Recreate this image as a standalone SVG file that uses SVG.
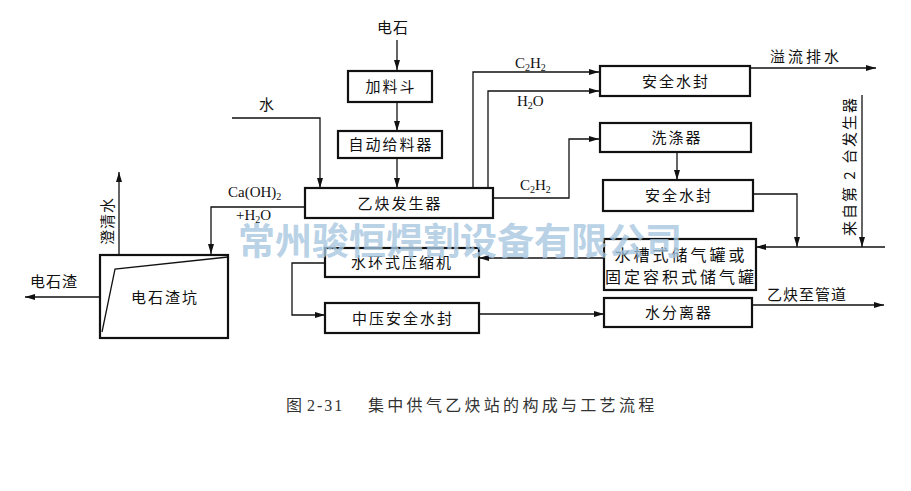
<svg xmlns="http://www.w3.org/2000/svg" width="911" height="491" viewBox="0 0 911 491">
<defs>
<marker id="ah" viewBox="0 0 10 6" refX="10" refY="3" markerWidth="10" markerHeight="6" markerUnits="userSpaceOnUse" orient="auto">
<path d="M0,0 L10,3 L0,6 z" fill="#111"/>
</marker>
<style>
.box{fill:#fff;stroke:#111;stroke-width:2.2}
.ln{fill:none;stroke:#111;stroke-width:1.3}
.t{font-family:"Noto Sans CJK SC","Noto Sans",sans-serif;font-size:15px;fill:#111;text-anchor:middle;letter-spacing:2px}
.l{font-family:"Noto Sans CJK SC","Noto Sans",sans-serif;font-size:15px;fill:#111;letter-spacing:1px}
.f{font-family:"Liberation Serif","Noto Sans CJK SC",serif;font-size:15px;fill:#111}
.wm{font-family:"Noto Sans CJK SC",sans-serif;font-size:37px;font-weight:bold;fill:#a6c6e0;fill-opacity:0.8;letter-spacing:0px}
.cap{font-family:"Noto Sans CJK SC","Liberation Serif",sans-serif;font-size:16px;fill:#333}
</style>
</defs>
<rect width="911" height="491" fill="#fff"/>
<g id="connectors">
<path class="ln" d="M397,40 V70" marker-end="url(#ah)"/>
<path class="ln" d="M397,102 V131" marker-end="url(#ah)"/>
<path class="ln" d="M397,158 V188" marker-end="url(#ah)"/>
<path class="ln" d="M232,118 H320 V188" marker-end="url(#ah)"/>
<path class="ln" d="M473,188 V72 H599" marker-end="url(#ah)"/>
<path class="ln" d="M488,188 V91 H599" marker-end="url(#ah)"/>
<path class="ln" d="M750,68 H876" marker-end="url(#ah)"/>
<path class="ln" d="M493,198 H569 V139 H599" marker-end="url(#ah)"/>
<path class="ln" d="M677,152 V180" marker-end="url(#ah)"/>
<path class="ln" d="M753,194 H797 V247" marker-end="url(#ah)"/>
<path class="ln" d="M862,95 V247" marker-end="url(#ah)"/>
<path class="ln" d="M885,247 H756" marker-end="url(#ah)"/>
<path class="ln" d="M604,258 H479" marker-end="url(#ah)"/>
<path class="ln" d="M325,263 H292 V315 H325" marker-end="url(#ah)"/>
<path class="ln" d="M479,314 H604" marker-end="url(#ah)"/>
<path class="ln" d="M752,305 H884" marker-end="url(#ah)"/>
<path class="ln" d="M305,207 H211 V254" marker-end="url(#ah)"/>
<path class="ln" d="M119,255 V172" marker-end="url(#ah)"/>
<path class="ln" d="M100,297 H25" marker-end="url(#ah)"/>
</g>
<g id="labels">
<text class="l" x="377" y="33">电石</text>
<text class="l" x="259" y="110">水</text>
<text class="f" x="515" y="68">C<tspan font-size="10" dy="3">2</tspan><tspan dy="-3">H</tspan><tspan font-size="10" dy="3">2</tspan></text>
<text class="f" x="517" y="106">H<tspan font-size="10" dy="3">2</tspan><tspan dy="-3">O</tspan></text>
<text class="f" x="520" y="190">C<tspan font-size="10" dy="3">2</tspan><tspan dy="-3">H</tspan><tspan font-size="10" dy="3">2</tspan></text>
<text class="f" x="228" y="197">Ca(OH)<tspan font-size="10" dy="3">2</tspan></text>
<text class="f" x="236" y="220">+H<tspan font-size="10" dy="3">2</tspan><tspan dy="-3">O</tspan></text>
<text class="l" x="770" y="62" style="letter-spacing:3px">溢流排水</text>
<text class="l" x="767" y="300">乙炔至管道</text>
<text class="l" x="30" y="287">电石渣</text>
<text class="l" transform="translate(855,236) rotate(-90)" style="letter-spacing:2px">来自第 2 台发生器</text>
<text class="l" transform="translate(113,245) rotate(-90)">澄清水</text>
</g>
<g id="n-hopper"><rect class="box" x="348" y="71" width="84" height="31"/><text class="t" x="391" y="92">加料斗</text></g>
<g id="n-feeder"><rect class="box" x="338" y="131" width="104" height="27"/><text class="t" x="391" y="150">自动给料器</text></g>
<g id="n-generator"><rect class="box" x="305" y="188" width="188" height="30"/><text class="t" x="400" y="209">乙炔发生器</text></g>
<g id="n-seal1"><rect class="box" x="600" y="66" width="150" height="30"/><text class="t" x="676" y="87">安全水封</text></g>
<g id="n-scrubber"><rect class="box" x="600" y="123" width="151" height="29"/><text class="t" x="677" y="143">洗涤器</text></g>
<g id="n-seal2"><rect class="box" x="603" y="180" width="150" height="31"/><text class="t" x="679" y="201">安全水封</text></g>
<g id="n-holder"><rect class="box" x="604" y="239" width="152" height="51"/><text class="t" x="681" y="261" style="font-size:16px;letter-spacing:3px">水槽式储气罐或</text><text class="t" x="681" y="283" style="font-size:16px;letter-spacing:3px">固定容积式储气罐</text></g>
<g id="n-compressor"><rect class="box" x="325" y="248" width="154" height="29"/><text class="t" x="402" y="268">水环式压缩机</text></g>
<g id="n-mpseal"><rect class="box" x="325" y="303" width="154" height="30"/><text class="t" x="403" y="324">中压安全水封</text></g>
<g id="n-separator"><rect class="box" x="604" y="298" width="148" height="29"/><text class="t" x="679" y="318">水分离器</text></g>
<g id="n-pit"><rect class="box" x="100" y="255" width="128" height="83"/><path class="ln" d="M102,332 L115,269 L228,257"/><text class="t" x="165" y="303">电石渣坑</text></g>
<text class="wm" x="238" y="255">常州骏恒焊割设备有限公司</text>
<text class="cap" y="411"><tspan x="286">图</tspan><tspan x="307" style="font-family:'Liberation Serif',serif;letter-spacing:2px">2-31</tspan><tspan x="368" style="letter-spacing:3.3px">集中供气乙炔站的构成与工艺流程</tspan></text>
</svg>
